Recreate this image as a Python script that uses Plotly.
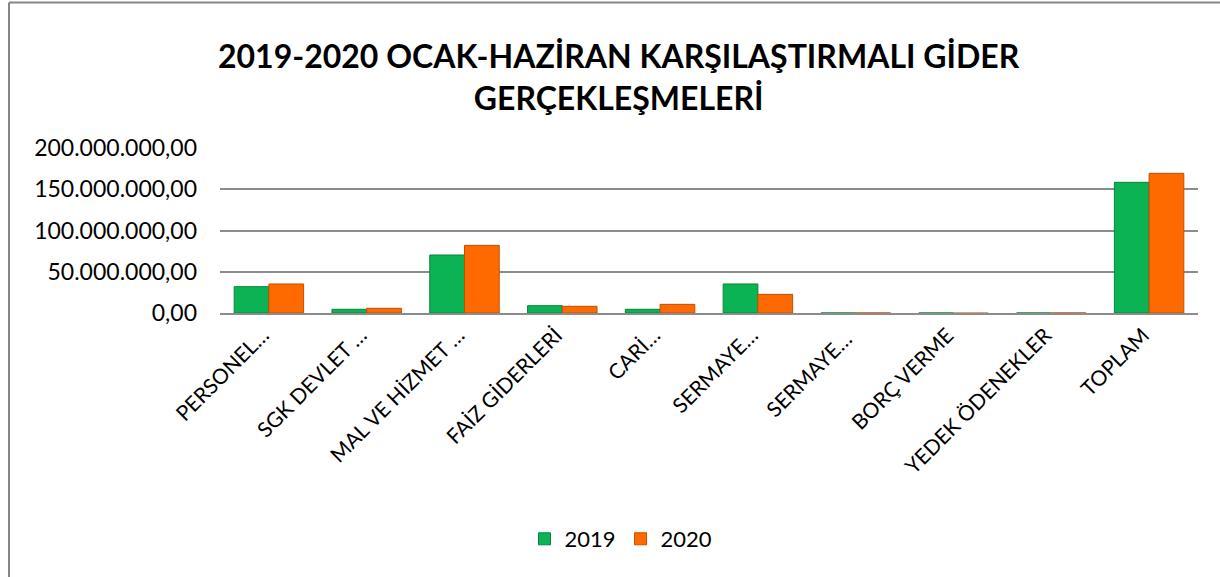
import plotly.graph_objects as go

# ── DATA ──────────────────────────────────────────────────────────────────────
categories = [
    "PERSONEL…", "SGK DEVLET …", "MAL VE HİZMET …", "FAİZ GİDERLERİ", "CARİ…",
    "SERMAYE…", "SERMAYE… ", "BORÇ VERME", "YEDEK ÖDENEKLER", "TOPLAM",
]
values_2019 = [31_900_000, 4_500_000, 70_300_000, 8_900_000, 4_500_000,
               35_200_000, 0, 0, 0, 158_400_000]
values_2020 = [35_200_000, 5_700_000, 82_000_000, 8_100_000, 10_500_000,
               22_600_000, 0, -500_000, 0, 169_300_000]
tick_values = [0, 50_000_000, 100_000_000, 150_000_000, 200_000_000]
tick_labels = ["0,00", "50.000.000,00", "100.000.000,00", "150.000.000,00", "200.000.000,00"]

FONT = "Lato, 'Open Sans', sans-serif"
GRID = "#8c8c8c"

# ── PLOT AREA GEOMETRY (pixels) ───────────────────────────────────────────────
W, H = 1220, 577
L, R, T, B = 220, 22, 148, 264
pw, ph = W - L - R, H - T - B


def px_x(x):
    return (x - L) / pw


def px_y(y):
    return (H - B - y) / ph


fig = go.Figure()
fig.add_trace(go.Bar(
    x=categories, y=values_2019, name="2019",
    marker=dict(color="#0cb354", line=dict(color="#07843b", width=1)),
))
fig.add_trace(go.Bar(
    x=categories, y=values_2020, name="2020",
    marker=dict(color="#ff6a00", line=dict(color="#c04f00", width=1)),
))

# outer chart border: only the left and top edges are visible in the reference
for x0, y0, x1, y1 in [(9, 2.5, 9, H + 5), (9, 2.5, W + 5, 2.5)]:
    fig.add_shape(
        type="line", xref="paper", yref="paper",
        x0=px_x(x0), y0=px_y(y0), x1=px_x(x1), y1=px_y(y1),
        line=dict(color="#868686", width=2), layer="below",
    )

# title as annotation (two lines, centred over chart)
fig.add_annotation(
    text="<b>2019-2020 OCAK-HAZİRAN KARŞILAŞTIRMALI GİDER<br>GERÇEKLEŞMELERİ</b>",
    xref="paper", yref="paper", x=px_x(619), y=px_y(77),
    xanchor="center", yanchor="middle", showarrow=False,
    font=dict(size=32, family=FONT, color="black"),
)

fig.update_layout(
    width=W, height=H,
    margin=dict(l=L, r=R, t=T, b=B),
    paper_bgcolor="white", plot_bgcolor="white",
    font=dict(family=FONT, color="black"),
    barmode="group", bargap=0.29, bargroupgap=0,
    xaxis=dict(
        tickangle=-45, tickfont=dict(size=21), showgrid=False,
        showline=True, linecolor=GRID, linewidth=1.5, ticks="",
        ticklabelshift=-6,
    ),
    yaxis=dict(
        range=[0, 200_000_000], tickvals=tick_values, ticktext=tick_labels,
        tickfont=dict(size=23), showgrid=True, gridcolor=GRID, gridwidth=1.5,
        zeroline=False, ticklabelstandoff=22,
    ),
    legend=dict(
        orientation="h", x=px_x(621), xanchor="center",
        y=px_y(539), yanchor="middle",
        font=dict(size=22), itemwidth=30, traceorder="normal",
    ),
)

fig.write_html(
    "out.html",
    config={"displayModeBar": False},
    post_script="document.body.style.margin='0';document.body.style.overflow='hidden';",
)
